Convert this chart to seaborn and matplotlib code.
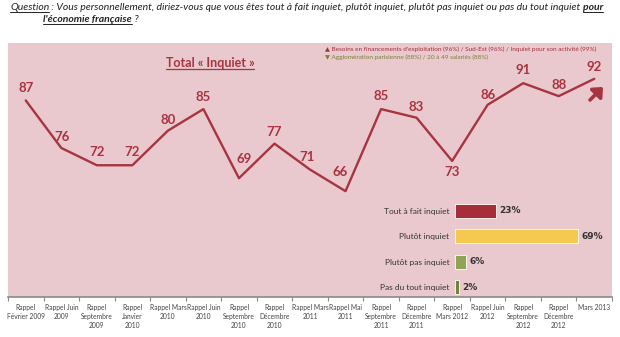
import numpy as np
import pandas as pd
import matplotlib
matplotlib.use("Agg")
import matplotlib.pyplot as plt
import seaborn as sns
from matplotlib.lines import Line2D
from matplotlib.patches import FancyArrowPatch

# ---------------- data ----------------
periods = ["Rappel\nFévrier 2009", "Rappel Juin\n2009", "Rappel\nSeptembre\n2009",
           "Rappel\nJanvier\n2010", "Rappel Mars\n2010", "Rappel Juin\n2010",
           "Rappel\nSeptembre\n2010", "Rappel\nDécembre\n2010", "Rappel Mars\n2011",
           "Rappel Mai\n2011", "Rappel\nSeptembre\n2011", "Rappel\nDécembre\n2011",
           "Rappel\nMars 2012", "Rappel Juin\n2012", "Rappel\nSeptembre\n2012",
           "Rappel\nDécembre\n2012", "Mars 2013"]
total_inquiet = [87, 76, 72, 72, 80, 85, 69, 77, 71, 66, 85, 83, 73, 86, 91, 88, 92]

bar_categories = ["Tout à fait inquiet", "Plutôt inquiet", "Plutôt pas inquiet", "Pas du tout inquiet"]
bar_values = [23, 69, 6, 2]

# label offsets (px, right/up) relative to each point
label_offsets = [(0, 12), (1, 11), (0, 13), (0, 13), (0, 11), (0, 12), (5, 19), (0, 12),
                 (-3, 13), (-5, 19), (0, 13), (0, 11), (0, -11), (0, 10), (0, 13), (0, 11), (0, 12)]

LINE = "#a83440"
PINK = "#e9c9ce"
BAR_COLORS = ["#a72d3a", "#f5c94f", "#8fa457", "#6b8838"]
W, H = 620, 337

sns.set_theme(style="white")
plt.rcParams["font.family"] = ["Lato", "DejaVu Sans"]

fig = plt.figure(figsize=(6.2, 3.37), dpi=100)
fig.patch.set_facecolor("white")

# ---------------- main line chart ----------------
ax = fig.add_axes([8 / W, 40 / H, 604 / W, 254 / H])
ax.set_facecolor(PINK)
df = pd.DataFrame({"x": np.arange(len(total_inquiet)), "v": total_inquiet})
sns.lineplot(data=df, x="x", y="v", ax=ax, color=LINE, linewidth=1.7, sort=False)
ax.set_xlim(-0.5, len(total_inquiet) - 0.5)
ax.set_ylim(41.5, 100.3)
ax.set_xlabel("")
ax.set_ylabel("")
ax.set_yticks([])
ax.set_xticks(np.arange(-0.5, len(total_inquiet), 1.0))
ax.set_xticklabels([])
ax.set_xticks(np.arange(len(total_inquiet)), minor=True)
ax.set_xticklabels(periods, minor=True, fontsize=4.8, color="#444444", linespacing=1.3)
ax.tick_params(axis="x", which="major", length=3, width=0.8, color="#888888", direction="out", bottom=True)
ax.tick_params(axis="x", which="minor", length=0, pad=5)
for s in ["top", "right", "left"]:
    ax.spines[s].set_visible(False)
ax.spines["bottom"].set_color("#8a8a8a")
ax.spines["bottom"].set_linewidth(1.2)

for i, (v, (dx, dy)) in enumerate(zip(total_inquiet, label_offsets)):
    ax.annotate(str(v), (i, v), xytext=(dx * 0.72, dy * 0.72), textcoords="offset points",
                ha="center", va="center", fontsize=9.5, fontweight="bold", fontstyle="normal", color=LINE)

# arrow at end
fig.add_artist(FancyArrowPatch((590 / W, 1 - 100 / H), (603 / W, 1 - 87 / H), transform=fig.transFigure,
                               arrowstyle="-|>,head_length=0.5,head_width=0.45", mutation_scale=10,
                               color=LINE, lw=2.6, shrinkA=0, shrinkB=0))

# ---------------- inset bar chart ----------------
ax2 = fig.add_axes([455 / W, 37 / H, 178 / W, 102 / H])
ax2.set_facecolor("none")
bdf = pd.DataFrame({"cat": bar_categories, "val": bar_values})
sns.barplot(data=bdf, x="val", y="cat", hue="cat", palette=BAR_COLORS, legend=False, saturation=1,
            orient="h", width=0.56, ax=ax2, edgecolor="white", linewidth=0.6)
ax2.set_xlim(0, 100)
ax2.set_xlabel("")
ax2.set_ylabel("")
ax2.set_xticks([])
ax2.tick_params(axis="y", length=0, pad=4, labelsize=6, labelcolor="#333333")
for s in ax2.spines.values():
    s.set_visible(False)
for i, v in enumerate(bar_values):
    ax2.text(v + 2, i, f"{v}%", va="center", ha="left", fontsize=6.5, fontweight="bold",
             fontstyle="normal", family=["DejaVu Sans"], color="#333333")

# ---------------- texts ----------------
renderer = fig.canvas.get_renderer()


def underline(t, off=1.0, lw=0.8, color=None):
    bb = t.get_window_extent(renderer)
    y = bb.y0 + off
    fig.add_artist(Line2D([bb.x0 / W, bb.x1 / W], [y / H, y / H], transform=fig.transFigure,
                          color=color or t.get_color(), lw=lw))


def fit(t, target):
    bb = t.get_window_extent(renderer)
    t.set_fontsize(t.get_fontsize() * target / bb.width)


title = fig.text(210 / W, 1 - 63 / H, "Total « Inquiet »", ha="center", va="center",
                 fontsize=9, fontweight="bold", color=LINE)
underline(title, off=0.5, lw=0.9)

leg1 = fig.text(325 / W, 1 - 49 / H,
                "▲ Besoins en financements d'exploitation (96%) / Sud-Est (96%) / Inquiet pour son activité (99%)",
                ha="left", va="center", fontsize=5, color="#a0303c")
fit(leg1, 274)
leg2 = fig.text(325 / W, 1 - 57 / H, "▼ Agglomération parisienne (88%) / 20 à 49 salariés (88%)",
                ha="left", va="center", fontsize=leg1.get_fontsize(), color="#7a7f3a")

# question
qfs = 7.0
q1 = fig.text(10 / W, 1 - 8 / H, "Question", ha="left", va="center", fontsize=qfs, style="italic", color="#222222")
q2 = fig.text(0, 1 - 8 / H,
              " : Vous personnellement, diriez-vous que vous êtes tout à fait inquiet, plutôt inquiet, plutôt pas inquiet ou pas du tout inquiet ",
              ha="left", va="center", fontsize=qfs, style="italic", color="#222222")
q3 = fig.text(0, 1 - 8 / H, "pour", ha="left", va="center", fontsize=qfs, style="italic",
              fontweight="bold", color="#222222")
total = sum(t.get_window_extent(renderer).width for t in (q1, q2, q3))
scale = 598 / total
for t in (q1, q2, q3):
    t.set_fontsize(qfs * scale)
x = 10
for t in (q1, q2, q3):
    t.set_x(x / W)
    x += t.get_window_extent(renderer).width
q4 = fig.text(43 / W, 1 - 20 / H, "l'économie française", ha="left", va="center", fontsize=qfs * scale,
              style="italic", fontweight="bold", color="#222222")
q5 = fig.text((43 + q4.get_window_extent(renderer).width) / W, 1 - 20 / H, " ?", ha="left", va="center",
              fontsize=qfs * scale, style="italic", color="#222222")
for t in (q1, q3, q4):
    underline(t, off=1.0, lw=0.7)

fig.savefig("out.png", dpi=100, facecolor="white")
